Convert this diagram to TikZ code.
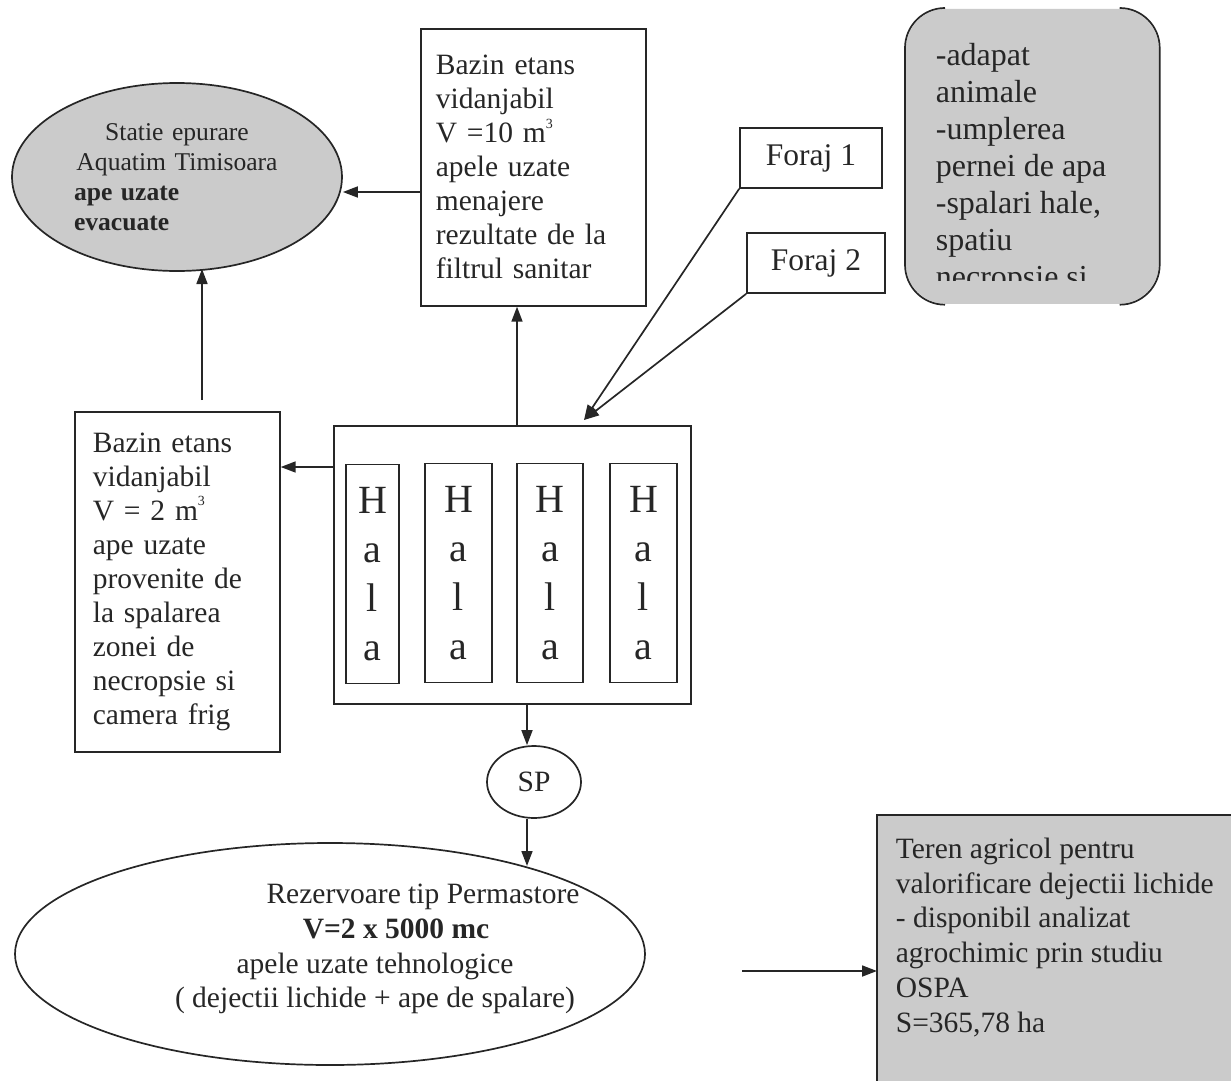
\documentclass[tikz,border=0pt]{standalone}
\usepackage{fontspec}
\setmainfont{Liberation Serif}
\usetikzlibrary{arrows.meta,shapes.geometric}
\definecolor{ink}{HTML}{262626}
\definecolor{fillg}{HTML}{CBCBCB}
\newcommand\fmain{\fontsize{29.5}{34}\selectfont}
\newcommand\supthree{\raisebox{0.5em}{\fontsize{14}{14}\selectfont 3}}
\begin{document}
\begin{tikzpicture}[x=1pt,y=-1pt,color=ink,line width=1.7pt,
  arr/.style={-{Triangle[length=15pt,width=11pt]}},
  tbox/.style={draw,rectangle,anchor=north west,inner ysep=0pt,align=left,font=\fmain},
  hbox/.style={draw,rectangle,minimum height=219pt,inner sep=0pt,align=center,font=\fontsize{40}{49}\selectfont},
  fbox/.style={draw,rectangle,minimum height=60pt,inner sep=0pt,font=\fontsize{31.5}{36}\selectfont}]
\useasboundingbox (0,0) rectangle (1231,1081);

% station ellipse
\node[draw,ellipse,fill=fillg,minimum width=330pt,minimum height=188pt,inner sep=0pt,
      text width=206pt,font=\fontsize{25.6}{30}\selectfont] (statie) at (177,177)
  {\centering Statie epurare\\Aquatim Timisoara\par\raggedright\bfseries ape uzate\\evacuate\par};

% tank 10 m3
\node[tbox,text width=195pt,inner xsep=15pt,minimum height=277pt] (bz10) at (420,28)
  {Bazin etans\\vidanjabil\\V =10 m\supthree\\apele uzate\\menajere\\rezultate de la\\filtrul sanitar};

% wells
\node[fbox,minimum width=142pt] (f1) at (811,158) {Foraj 1};
\node[fbox,minimum width=138pt] (f2) at (816,263) {Foraj 2};

% uses (rounded grey)
\node[fill=fillg,rounded corners=40pt,minimum width=253pt,minimum height=295pt,
      anchor=north west,inner sep=0pt] (uses) at (905,8) {};
\draw[rounded corners=40pt] ([xshift=40pt]uses.north west) -- (uses.north west)
   -- (uses.south west) -- ([xshift=40pt]uses.south west);
\draw[rounded corners=40pt] ([xshift=-40pt]uses.north east) -- (uses.north east)
   -- (uses.south east) -- ([xshift=-40pt]uses.south east);
\begin{scope}
\clip (905,8) rectangle (1158,280);
\node[anchor=north west,align=left,inner sep=0pt,font=\fontsize{32}{37}\selectfont] (usetext) at (935,42)
  {-adapat\\animale\\-umplerea\\pernei de apa\\-spalari hale,\\spatiu\\necropsie si};
\end{scope}

% tank 2 m3
\node[tbox,text width=169pt,inner xsep=18pt,minimum height=340pt] (bz2) at (74,411)
  {Bazin etans\\vidanjabil\\V = 2 m\supthree\\ape uzate\\provenite de\\la spalarea\\zonei de\\necropsie si\\camera frig};

% halls
\node[draw,rectangle,anchor=north west,minimum width=357pt,minimum height=278pt,inner sep=0pt] (hall) at (333,425) {};
\node[hbox,minimum width=53pt] (h1) at (372.5,574) {H\\a\\l\\a};
\node[hbox,minimum width=67pt] (h2) at (458.5,573) {H\\a\\l\\a};
\node[hbox,minimum width=66pt] (h3) at (550,573) {H\\a\\l\\a};
\node[hbox,minimum width=67pt] (h4) at (643.5,573) {H\\a\\l\\a};

% SP
\node[draw,ellipse,minimum width=94pt,minimum height=72pt,inner sep=0pt,font=\fmain] (sp) at (534,782) {SP};

% Permastore tanks
\node[draw,ellipse,minimum width=630pt,minimum height=222pt,inner sep=0pt] (rez) at (330,954) {};
\node[anchor=base,font=\fmain] (r1) at (423,903) {Rezervoare tip Permastore};
\node[anchor=base,font=\fmain\bfseries] (r2) at (396,938) {V=2 x 5000 mc};
\node[anchor=base,font=\fmain] (r3) at (375,973) {apele uzate tehnologice};
\node[anchor=base,font=\fmain] (r4) at (375,1007) {( dejectii lichide + ape de spalare)};

% agricultural land
\node[fill=fillg,anchor=north west,minimum width=354pt,minimum height=266pt,inner sep=0pt] (teren) at (877,815) {};
\draw (teren.south west) -- (teren.north west) -- (teren.north east);
\node[anchor=north west,align=left,inner sep=0pt,font=\fontsize{29.5}{34.8}\selectfont] (terentext) at (895,837)
  {Teren agricol pentru\\valorificare dejectii lichide\\- disponibil analizat\\agrochimic prin studiu\\OSPA\\S=365,78 ha};

% connectors
\coordinate (p192) at (0,192);
\coordinate (x517) at (517,0);
\coordinate (y467) at (0,467);
\coordinate (a4e) at (202,269);
\coordinate (x527) at (527,0);
\coordinate (rezin) at (527,866);
\coordinate (rezout) at (742,971);
\coordinate (hallin) at (584,420);

\draw[arr] (bz10.west |- p192) -- (statie.east |- p192);
\draw[arr] (hall.north -| x517) -- (bz10.south -| x517);
\draw[arr] (hall.west |- y467) -- (bz2.east |- y467);
\draw[arr] (bz2.north -| a4e) ++(0,-11) -- (a4e);
\draw[arr] (hall.south -| x527) -- (sp.north -| x527);
\draw[arr] (sp.south -| x527) -- (rezin);
\draw[arr] (rezout) -- (teren.west |- rezout);
\draw[arr] (f1.south west) -- (hallin);
\draw[arr] (f2.south west) -- (hallin);
\end{tikzpicture}
\end{document}
